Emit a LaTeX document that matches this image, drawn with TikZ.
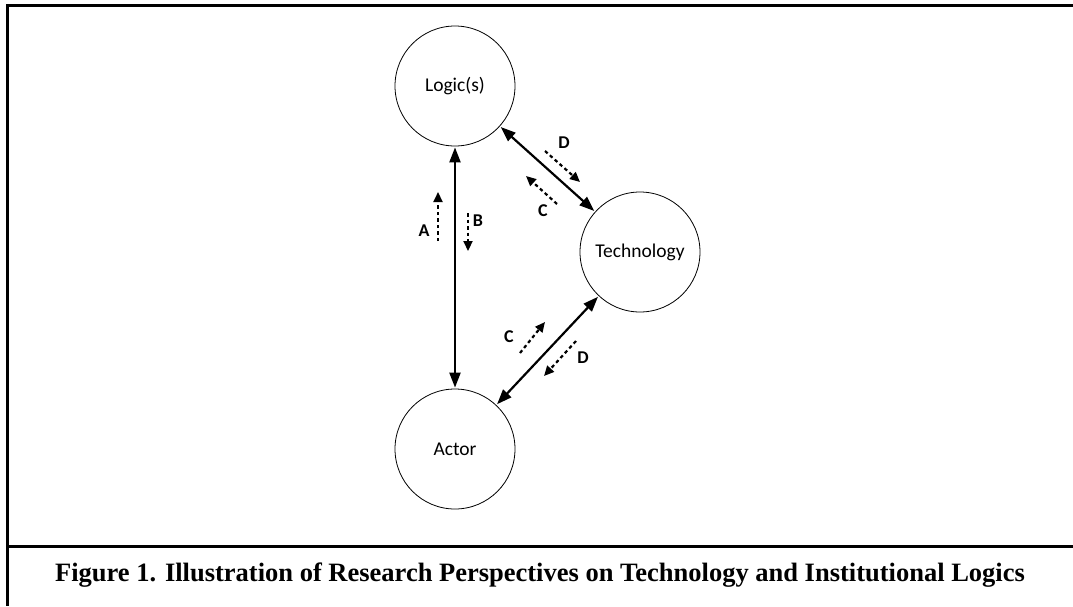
\documentclass[tikz,border=0pt]{standalone}
\usepackage{fontspec}
\setmainfont{Carlito}
\newfontfamily\captionserif{Liberation Serif}
\usetikzlibrary{arrows.meta}
\begin{document}
\begin{tikzpicture}[x=1pt,y=-1pt,
  concept/.style={draw,circle,line width=0.8pt,minimum size=120pt,inner sep=0pt,font=\fontsize{19.5}{22}\selectfont},
  link/.style={{Triangle[length=15pt,width=11pt]}-{Triangle[length=15pt,width=11pt]},line width=2.2pt,shorten <=1pt,shorten >=1pt},
  flow/.style={-{Triangle[length=10pt,width=9pt]},line width=2.2pt,dash pattern=on 3.5pt off 3pt},
  tag/.style={font=\fontsize{18}{20}\selectfont\bfseries,inner sep=0pt}]
\useasboundingbox (0,0) rectangle (1073,606);
% frame
\draw[line width=3pt] (1073,5) -- (7,5) -- (7,606);
\draw[line width=3pt] (7,546) -- (1073,546);
% concepts
\node[concept] (logic) at (455,86) {Logic(s)};
\node[concept] (tech) at (640,252) {Technology};
\node[concept] (actor) at (455,449) {Actor};
% relations
\draw[link] (logic) -- (actor);
\draw[link] (logic) -- (tech);
\draw[link] (tech) -- (actor);
% directional influences
\coordinate (a0) at (438,241); \coordinate (a1) at (438,192);
\coordinate (b0) at (468,213); \coordinate (b1) at (468,251);
\coordinate (dt0) at (545,151); \coordinate (dt1) at (580,182);
\coordinate (ct0) at (557,204); \coordinate (ct1) at (526,176);
\coordinate (cb0) at (520,353); \coordinate (cb1) at (545,322);
\coordinate (db0) at (576,341); \coordinate (db1) at (544,376);
\draw[flow] (a0) -- (a1);
\draw[flow] (b0) -- (b1);
\draw[flow] (dt0) -- (dt1);
\draw[flow] (ct0) -- (ct1);
\draw[flow] (cb0) -- (cb1);
\draw[flow] (db0) -- (db1);
\node[tag] (la) at (424,231) {A};
\node[tag] (lb) at (478,221) {B};
\node[tag] (ldt) at (564,143) {D};
\node[tag] (lct) at (543,211) {C};
\node[tag] (lcb) at (509,337) {C};
\node[tag] (ldb) at (583,358) {D};
% caption
\node[font=\captionserif\fontsize{26.5}{28}\selectfont\bfseries] (cap) at (540,575) {Figure 1. Illustration of Research Perspectives on Technology and Institutional Logics};
\end{tikzpicture}
\end{document}
